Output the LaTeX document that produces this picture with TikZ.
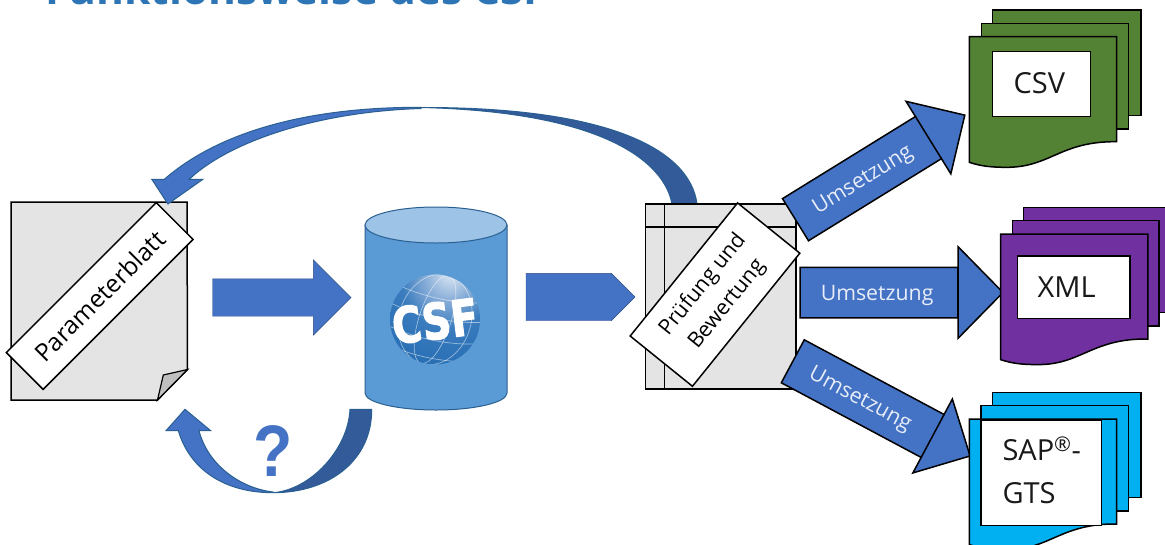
\documentclass[tikz,border=0pt]{standalone}
\usepackage{fontspec}
\setmainfont{Open Sans}
\newfontfamily\arialfont[FakeStretch=.88]{Liberation Sans}
\newfontfamily\logofont[FakeBold=2,FakeStretch=.8]{DejaVu Sans Bold}
\usetikzlibrary{shapes.arrows}
\definecolor{blockblue}{HTML}{4472C4}
\definecolor{darkblock}{HTML}{335B99}
\definecolor{edgeblue}{HTML}{2A5F92}
\definecolor{sheetgray}{HTML}{E4E4E4}
\definecolor{foldgray}{HTML}{BFBFBF}
\definecolor{cylbody}{HTML}{5B9BD5}
\definecolor{cyltop}{HTML}{9DC3E6}
\definecolor{csvgreen}{HTML}{548235}
\definecolor{xmlpurple}{HTML}{7030A0}
\definecolor{sapblue}{HTML}{00B0F0}
\definecolor{titleblue}{HTML}{2E75B6}
\definecolor{arrowtext}{HTML}{E8EEF9}
\definecolor{globeA}{HTML}{E4ECF6}
\definecolor{globeB}{HTML}{8FB2DA}
\definecolor{globeC}{HTML}{3A7CBE}
\definecolor{globeD}{HTML}{1F68AE}
\pgfdeclareradialshading{globeshade}{\pgfpoint{9bp}{27bp}}{%
  color(0bp)=(globeA);color(12bp)=(globeB);
  color(25bp)=(globeC);color(50bp)=(globeD);color(100bp)=(globeD)}
\tikzset{
  sheet/.style={draw=black,line width=1.5pt,line join=miter},
  banner/.style={draw=black,line width=1.5pt,fill=white,inner sep=0pt,outer sep=0pt,align=center},
  plainarrow/.style={single arrow,single arrow head indent=0pt,inner xsep=0pt,outer sep=0pt,
    fill=blockblue,draw=blockblue!70!black,line width=.4pt,anchor=tail},
  umarrow/.style={single arrow,single arrow head indent=0pt,inner sep=0pt,outer sep=0pt,
    fill=blockblue,draw=black,line width=1.5pt,anchor=tail,text=arrowtext,
    font=\fontsize{21.3}{24}\selectfont},
  headline/.style={draw=black,line width=1.5pt},
  label/.style={inner sep=0pt,font=\fontsize{29}{34}\selectfont,text=black!90},
  curvelight/.style={fill=blockblue,draw=edgeblue,line width=1pt,line join=miter},
  curvedark/.style={fill=darkblock,draw=edgeblue,line width=1pt,line join=miter},
  gridline/.style={white,opacity=.5,line width=.7pt}
}
\newcommand{\frontsheet}[3]{\draw[sheet,fill=#3,shift={(#1,#2)}] (0,0) -- (147.4,0) -- (147.4,105)
  .. controls (91,104.3) and (81,130.8) .. (37,130.6)
  .. controls (21,130.6) and (11,129.3) .. (0,125.6) -- cycle;}
\newcommand{\umtext}[1]{\raisebox{-7.5pt}{Umsetzung}\kern#1\relax}
\begin{document}
\begin{tikzpicture}[x=1pt,y=-1pt]
\useasboundingbox (0,0) rectangle (1165,544);
\clip (0,0) rectangle (1165,544);
\fill[white] (0,0) rectangle (1165,544);

% title
\node[anchor=base west,inner sep=0pt,text=titleblue,font=\fontsize{42.5}{46}\selectfont\bfseries] (title) at (45,4) {Funktionsweise des CSF};

% Parameterblatt sheet
\draw[sheet,fill=sheetgray] (11,202) -- (187,202) -- (187.5,369.5) -- (157.5,400) -- (11,400) -- cycle;
\draw[sheet,fill=foldgray,line width=1.2pt] (157.5,400) -- (163.3,375) -- (187.5,369.5) -- cycle;
\node[banner,rotate=45,minimum width=212pt,minimum height=52pt,font=\fontsize{24.5}{30}\selectfont] (param) at (99.7,296) {Parameterblatt};

% top curved arrow
\draw[curvedark] (697,204) .. controls (690,150) and (610,107) .. (421,107.5)
  .. controls (610,112) and (665,165) .. (672,204) -- cycle;
\draw[curvelight] (421,107.3) .. controls (300,107) and (215,135) .. (164.3,179.3)
  -- (151.8,179.3) -- (167.9,204) -- (202.9,179.3) -- (189.3,179.3)
  .. controls (225,145) and (310,112) .. (421,108.5) -- cycle;

% database
\draw[fill=cylbody,draw=edgeblue,line width=1pt] (365,225) -- (365,393)
  arc[start angle=180,end angle=0,x radius=71,y radius=17] -- (507,225) -- cycle;
\draw[fill=cyltop,draw=edgeblue,line width=1pt] (436,225) ellipse[x radius=71,y radius=18];

% logo
\begin{scope}
  \shade[shading=globeshade] (435,319.5) circle[radius=45];
  \clip (435,319.5) circle[radius=45];
  \foreach \rx in {16,36}{\draw[gridline,rotate around={-18:(435,319.5)}] (435,319.5) ellipse[x radius=\rx,y radius=46];}
  \foreach \yy in {-28,-8,14,32}{\draw[gridline,rotate around={-12:(435,319.5)}] (385,319.5+\yy) .. controls (415,319.5+\yy+9) and (455,319.5+\yy+9) .. (485,319.5+\yy);}
\end{scope}
\node[inner sep=0pt,text=white,rotate=7,font=\fontsize{50}{54}\logofont] (logo) at (435,321) {CSF};

% left block arrows
\node[plainarrow,minimum height=138.5pt,inner ysep=18.5pt,single arrow head extend=19pt,single arrow tip angle=90] (in) at (212.5,297.5) {};
\node[plainarrow,minimum height=109pt,inner ysep=23.5pt,single arrow head extend=0pt,single arrow tip angle=90] (mid) at (526,297) {};

% bottom curved arrow
\draw[curvedark] (371.7,409.3) .. controls (372,460) and (330,492.7) .. (273,492.7)
  .. controls (310,490) and (348,450) .. (350,409.3) -- cycle;
\draw[curvelight] (273,492.7) .. controls (225,492.7) and (190,470) .. (178.3,430.7)
  -- (166,430.7) -- (185,409.3) -- (210.7,430.7) -- (199,430.7)
  .. controls (208,465) and (240,488) .. (273,492) -- cycle;
\node[inner sep=0pt,text=blockblue,font=\fontsize{73}{80}\arialfont\bfseries] (question) at (273,451.5) {?};

% Pruefung sheet
\draw[sheet,fill=sheetgray] (645.3,204) rectangle (796,389);
\draw[sheet] (664.3,204) -- (664.3,389);
\draw[sheet] (645.3,227) -- (796,227);
\node[banner,rotate=51.1,minimum width=171pt,minimum height=80pt,font=\fontsize{21.3}{31}\selectfont] (pruef) at (715,294.6) {Prüfung und\\Bewertung};

% output arrows
\node[umarrow,minimum height=199pt,text height=24pt,text depth=24pt,single arrow head extend=17.85pt,single arrow tip angle=89.8,rotate=31.7] (um1) at (795.5,219.7) {\umtext{18pt}};
\node[umarrow,minimum height=203pt,text height=24.5pt,text depth=24.5pt,single arrow head extend=20.5pt,single arrow tip angle=91.1] (um2) at (800,292.5) {\umtext{24pt}};
\node[umarrow,minimum height=201pt,text height=23.6pt,text depth=23.6pt,single arrow head extend=17.55pt,single arrow tip angle=89.2,rotate=-28.1] (um3) at (792.8,361.3) {\umtext{22pt}};
\draw[headline] (um1.before head) -- (um1.after head);
\draw[headline] (um2.before head) -- (um2.after head);
\draw[headline] (um3.before head) -- (um3.after head);

% CSV stack
\draw[sheet,fill=csvgreen] (992.7,10) rectangle (1141,115.7);
\draw[sheet,fill=csvgreen] (981.3,23.3) rectangle (1128.3,129);
\frontsheet{969.3}{36.7}{csvgreen}
\draw[sheet,fill=white,line width=1.3pt] (992.7,51.7) rectangle (1090.7,116.7);
\node[label] (csv) at (1039.3,83) {CSV};

% XML stack
\draw[sheet,fill=xmlpurple] (1023.3,207.3) rectangle (1175,312.7);
\draw[sheet,fill=xmlpurple] (1012.3,220.7) rectangle (1159,326);
\frontsheet{1000.5}{234}{xmlpurple}
\draw[sheet,fill=white,line width=1.3pt] (1017.3,256) rectangle (1130,318.3);
\node[label] (xml) at (1066.7,287.3) {XML};

% SAP stack
\draw[sheet,fill=sapblue] (992.3,392.3) rectangle (1141,497.3);
\draw[sheet,fill=sapblue] (981,405.3) rectangle (1128.3,511);
\frontsheet{969.3}{419}{sapblue}
\draw[sheet,fill=white,line width=1.3pt] (981,420) rectangle (1101.7,525.3);
\node[label,anchor=base west] (sap) at (1002.3,460.7) {SAP\textsuperscript{®}-};
\node[label,anchor=base west] (gts) at (1002.3,503.3) {GTS};
\end{tikzpicture}
\end{document}
